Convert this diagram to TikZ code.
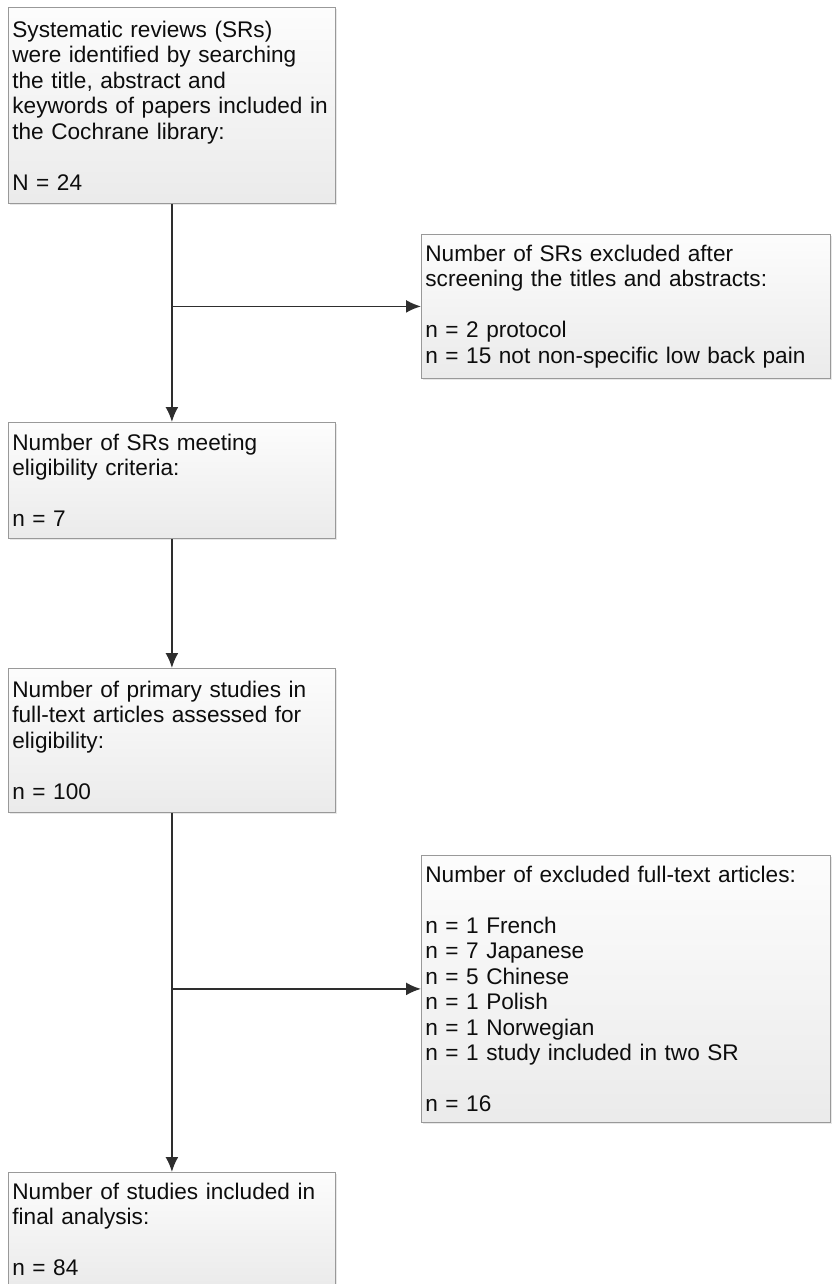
\documentclass[tikz,border=0pt]{standalone}
\usepackage{fontspec}
\setmainfont{Liberation Sans}
\usetikzlibrary{positioning,calc,arrows.meta,shadows}

\begin{document}
\begin{tikzpicture}[x=1pt, y=-1pt, every node/.style={font=\fontsize{22.6}{25.5}\selectfont}]
  \tikzstyle{stagebox}=[rectangle, draw=black!40, line width=0.8pt, top color=black!1, bottom color=black!8, text=black!95, anchor=north west, align=left, inner xsep=4pt, inner ysep=10pt, text width=319pt, drop shadow={opacity=0.18, shadow xshift=1.5pt, shadow yshift=-1.5pt}]
  \tikzstyle{exclbox}=[stagebox, text width=401pt]
  \tikzstyle{flow}=[draw=black!82, line width=1.8pt, -{Latex[length=15pt,width=13pt]}]

  \useasboundingbox (0,0) rectangle (832,1284);

  % main column
  \node[stagebox, minimum height=196pt] (srs) at (8,7) {Systematic reviews (SRs)\\were identified by searching\\the title, abstract and\\keywords of papers included in\\the Cochrane library:\\[25.5pt]N = 24};
  \node[stagebox, minimum height=116pt] (eligible) at (8,422) {Number of SRs meeting\\eligibility criteria:\\[25.5pt]n = 7};
  \node[stagebox, minimum height=144pt] (primary) at (8,668) {Number of primary studies in\\full-text articles assessed for\\eligibility:\\[25.5pt]n = 100};
  \node[stagebox, minimum height=114pt] (final) at (8,1172) {Number of studies included in\\final analysis:\\[25.5pt]n = 84};

  % exclusions
  \node[exclbox, minimum height=144pt] (excl1) at (421,234) {Number of SRs excluded after\\screening the titles and abstracts:\\[25.5pt]n = 2 protocol\\n = 15 not non-specific low back pain};
  \node[exclbox, minimum height=267pt] (excl2) at (421,855) {Number of excluded full-text articles:\\[25.5pt]n = 1 French\\n = 7 Japanese\\n = 5 Chinese\\n = 1 Polish\\n = 1 Norwegian\\n = 1 study included in two SR\\[25.5pt]n = 16};

  \coordinate (split1) at (srs.south |- excl1.west);
  \coordinate (split2) at (srs.south |- excl2.west);

  \draw[flow] (srs) -- (eligible);
  \draw[flow] (split1) -- (excl1.west);
  \draw[flow] (eligible) -- (primary);
  \draw[flow] (primary) -- (final);
  \draw[flow] (split2) -- (excl2.west);
\end{tikzpicture}
\end{document}
